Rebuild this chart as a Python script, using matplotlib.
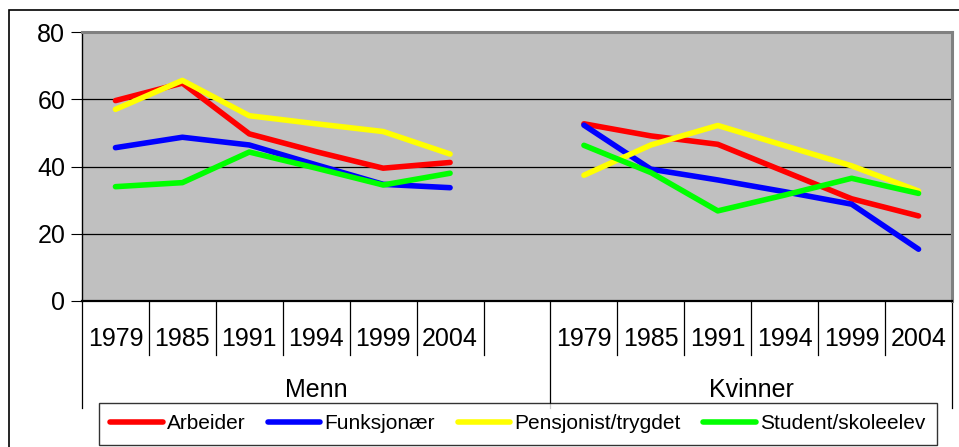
import matplotlib.pyplot as plt
from matplotlib.patches import Rectangle
import matplotlib.transforms as mtransforms

plt.rcParams['font.family'] = ['Liberation Sans', 'DejaVu Sans']

years = ['1979', '1985', '1991', '1994', '1999', '2004']
groups = ['Menn', 'Kvinner']

# percentages
arbeider_menn = [59.6, 64.8, 49.7, 44.4, 39.5, 41.2]
arbeider_kvinner = [52.7, 49.1, 46.6, 38.5, 30.4, 25.3]
funksjonaer_menn = [45.6, 48.7, 46.4, 40.5, 34.7, 33.7]
funksjonaer_kvinner = [52.3, 39.2, 36.0, 32.5, 28.8, 15.4]
pensjonist_menn = [57.0, 65.6, 55.1, 52.7, 50.4, 43.7]
pensjonist_kvinner = [37.4, 46.4, 52.2, 46.2, 40.2, 32.7]
student_menn = [34.0, 35.2, 44.3, 39.5, 34.5, 38.0]
student_kvinner = [46.3, 38.2, 26.8, 31.5, 36.5, 32.0]

series = [
    ('Arbeider', arbeider_menn, arbeider_kvinner, '#ff0000'),
    ('Funksjonær', funksjonaer_menn, funksjonaer_kvinner, '#0000ff'),
    ('Pensjonist/trygdet', pensjonist_menn, pensjonist_kvinner, '#ffff00'),
    ('Student/skoleelev', student_menn, student_kvinner, '#00ff00'),
]

W, H = 959, 447
fig = plt.figure(figsize=(W / 100, H / 100), dpi=100)
ax = fig.add_axes([82 / W, 1 - 301 / H, (952 - 82) / W, (301 - 32) / H])

# outer chart frame
fig.patches.append(Rectangle((9 / W, -0.05), 1.1, (H - 10) / H + 0.05,
                             transform=fig.transFigure, fill=False,
                             edgecolor='black', lw=1.2))

ax.set_facecolor('#c0c0c0')
x_menn = list(range(6))
x_kvinner = list(range(7, 13))
for name, menn, kvinner, col in series:
    ax.plot(x_menn, menn, color=col, lw=4, solid_capstyle='round', label=name)
    ax.plot(x_kvinner, kvinner, color=col, lw=4, solid_capstyle='round')

ax.set_xlim(-0.5, 12.5)
ax.set_ylim(0, 80)
ax.set_yticks([0, 20, 40, 60, 80])
ax.tick_params(axis='y', labelsize=18, length=8, direction='out', pad=4)
ax.set_xticks([])
for v in [20, 40, 60]:
    ax.axhline(v, color='black', lw=0.9, zorder=1)

for s in ['top', 'right']:
    ax.spines[s].set_color('#808080')
    ax.spines[s].set_linewidth(2.2)
ax.spines['left'].set_color('black')
ax.spines['left'].set_linewidth(1)
ax.spines['bottom'].set_color('black')
ax.spines['bottom'].set_linewidth(1.6)

# two-level category axis
trans = mtransforms.blended_transform_factory(ax.transData, ax.transAxes)
px = 1 / (301 - 32)
for b in [i + 0.5 for i in range(-1, 13)]:
    low = -(408 - 301) * px if b in (-0.5, 6.5, 12.5) else -(355 - 301) * px
    ax.plot([b, b], [0, low], color='black', lw=0.9, transform=trans, clip_on=False)
for xs in (x_menn, x_kvinner):
    for x, yr in zip(xs, years):
        ax.text(x, -(339 - 301) * px, yr, transform=trans, ha='center',
                va='center', fontsize=18)
ax.text(3, -(390 - 301) * px, groups[0], transform=trans, ha='center', va='center', fontsize=18)
ax.text(9.5, -(390 - 301) * px, groups[1], transform=trans, ha='center', va='center', fontsize=18)

leg = fig.legend(loc='upper left', bbox_to_anchor=(99 / W, 1 - 403 / H), ncol=4,
                 fontsize=15, frameon=True, fancybox=False, edgecolor='black',
                 handlelength=2.5, handletextpad=0.2, columnspacing=1.1,
                 borderpad=0.55, borderaxespad=0)
leg.get_frame().set_linewidth(1.0)
for line in leg.get_lines():
    line.set_linewidth(4)

fig.savefig('out.png', dpi=100)
